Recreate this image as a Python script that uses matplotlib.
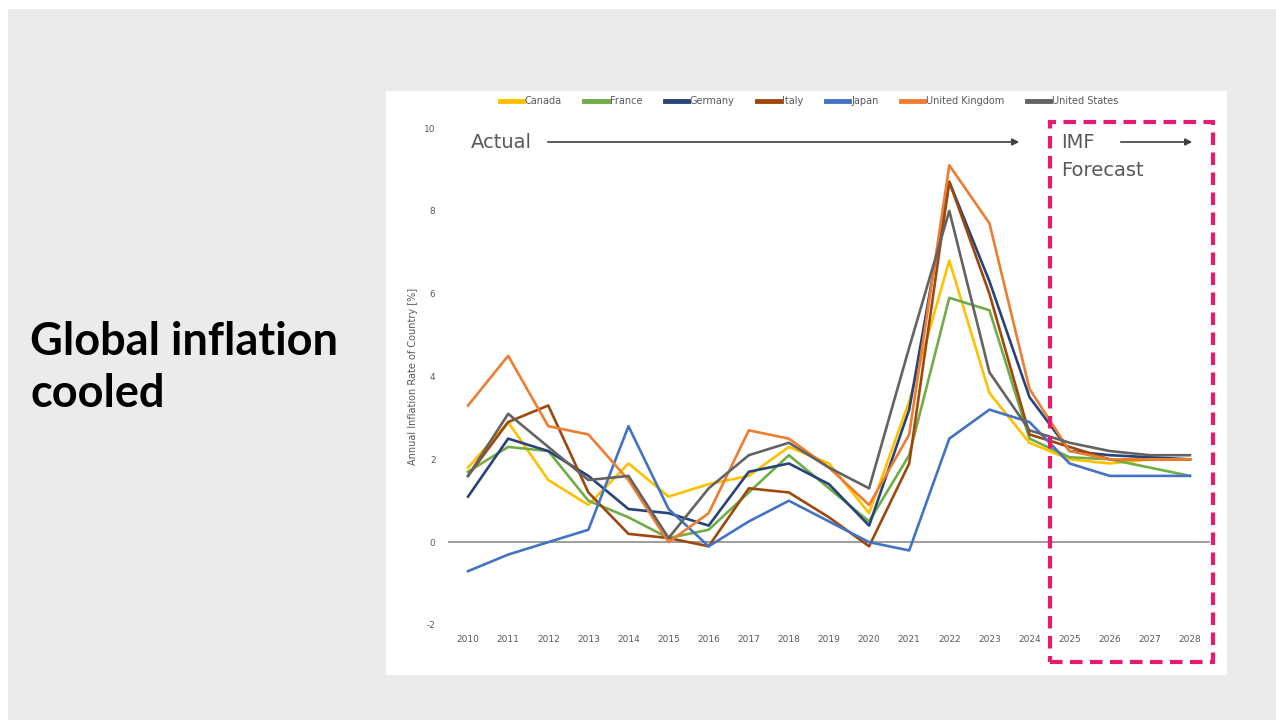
import numpy as np
import matplotlib.pyplot as plt
from matplotlib.patches import Rectangle, FancyArrowPatch

plt.rcParams['axes.unicode_minus'] = False

# dados
anos = list(range(2010, 2029))
canada = [1.8, 2.9, 1.5, 0.9, 1.9, 1.1, 1.4, 1.6, 2.3, 1.9, 0.7, 3.4, 6.8, 3.6, 2.4, 2.0, 1.9, 2.0, 2.0]
franca = [1.7, 2.3, 2.2, 1.0, 0.6, 0.1, 0.3, 1.2, 2.1, 1.3, 0.5, 2.1, 5.9, 5.6, 2.5, 2.05, 2.0, 1.8, 1.6]
alemanha = [1.1, 2.5, 2.2, 1.6, 0.8, 0.7, 0.4, 1.7, 1.9, 1.4, 0.4, 3.2, 8.7, 6.3, 3.5, 2.2, 2.1, 2.05, 2.0]
italia = [1.6, 2.9, 3.3, 1.2, 0.2, 0.1, -0.1, 1.3, 1.2, 0.6, -0.1, 1.9, 8.7, 6.0, 2.6, 2.3, 2.0, 2.0, 2.0]
japao = [-0.7, -0.3, 0.0, 0.3, 2.8, 0.8, -0.1, 0.5, 1.0, 0.5, 0.0, -0.2, 2.5, 3.2, 2.9, 1.9, 1.6, 1.6, 1.6]
reino_unido = [3.3, 4.5, 2.8, 2.6, 1.5, 0.0, 0.7, 2.7, 2.5, 1.8, 0.9, 2.6, 9.1, 7.7, 3.7, 2.2, 2.0, 2.0, 2.0]
eua = [1.6, 3.1, 2.3, 1.5, 1.6, 0.1, 1.3, 2.1, 2.4, 1.8, 1.3, 4.7, 8.0, 4.1, 2.7, 2.4, 2.2, 2.1, 2.1]

paises = ['Canada', 'France', 'Germany', 'Italy', 'Japan', 'United Kingdom', 'United States']
series = [canada, franca, alemanha, italia, japao, reino_unido, eua]
cores = ['#ffc000', '#70ad47', '#264478', '#9e480e', '#4472c4', '#ed7d31', '#636363']

W, H = 1276, 720
fig = plt.figure(figsize=(W / 100, H / 100), dpi=100)
fig.patch.set_facecolor('white')

# fundo cinza e painel branco
fig.patches.append(Rectangle((8 / W, 0), 1, 1 - 9 / H, transform=fig.transFigure,
                             facecolor='#ebebeb', edgecolor='none', zorder=-10))
fig.patches.append(Rectangle((386 / W, 1 - 675 / H), (1227 - 386) / W, (675 - 91) / H,
                             transform=fig.transFigure, facecolor='white',
                             edgecolor='none', zorder=-5))

fig.text(30 / W, 1 - 368 / H, 'Global inflation\ncooled', fontsize=32.5, fontweight='bold',
         family='Lato', color='black', va='center', ha='left', linespacing=1.28)

ax = fig.add_axes([448 / W, 1 - 625 / H, (1210 - 448) / W, (625 - 128) / H])
ax.set_facecolor('none')

for nome, valores, cor in zip(paises, series, cores):
    ax.plot(anos, valores, color=cor, linewidth=1.9, label=nome)

ax.axhline(0, color='#8c8c8c', linewidth=1.2, zorder=0)
ax.set_xlim(2009.5, 2028.5)
ax.set_ylim(-2, 10)
ax.set_yticks([-2, 0, 2, 4, 6, 8, 10])
ax.set_xticks(anos)
ax.set_xticklabels([str(a) for a in anos])
ax.tick_params(axis='both', length=0, labelsize=6.5, labelcolor='#595959')
ax.tick_params(axis='x', pad=7)
ax.tick_params(axis='y', pad=9)
for s in ax.spines.values():
    s.set_visible(False)

fig.text(413 / W, 1 - 376 / H, 'Annual Inflation Rate of Country [%]', rotation=90,
         fontsize=7, color='#595959', va='center', ha='center')

leg = fig.legend(loc='center', bbox_to_anchor=(809 / W, 1 - 101 / H), ncol=7,
                 frameon=False, fontsize=7, handlelength=2.4, handletextpad=0.2,
                 columnspacing=2.3)
for t in leg.get_texts():
    t.set_color('#595959')
for l in leg.get_lines():
    l.set_linewidth(3.5)

# anotacoes
fig.text(471 / W, 1 - 142 / H, 'Actual', fontsize=14, color='#595959', va='center', ha='left')
fig.patches.append(FancyArrowPatch(
    (545 / W, 1 - 142 / H), (1022 / W, 1 - 142 / H), transform=fig.transFigure,
    arrowstyle='-|>', mutation_scale=10, color='#404040', linewidth=1.2))
fig.text(1061 / W, 1 - 142 / H, 'IMF', fontsize=14, color='#595959', va='center', ha='left')
fig.text(1061 / W, 1 - 171 / H, 'Forecast', fontsize=14, color='#595959', va='center', ha='left')
fig.patches.append(FancyArrowPatch(
    (1118 / W, 1 - 142 / H), (1195 / W, 1 - 142 / H), transform=fig.transFigure,
    arrowstyle='-|>', mutation_scale=10, color='#404040', linewidth=1.2))

fig.patches.append(Rectangle((1050 / W, 1 - 662 / H), (1213 - 1050) / W, (662 - 122) / H,
                             transform=fig.transFigure, facecolor='none',
                             edgecolor='#e8196f', linewidth=3, linestyle=(0, (3, 1.8)),
                             zorder=10))

fig.savefig('out.png', dpi=100)
